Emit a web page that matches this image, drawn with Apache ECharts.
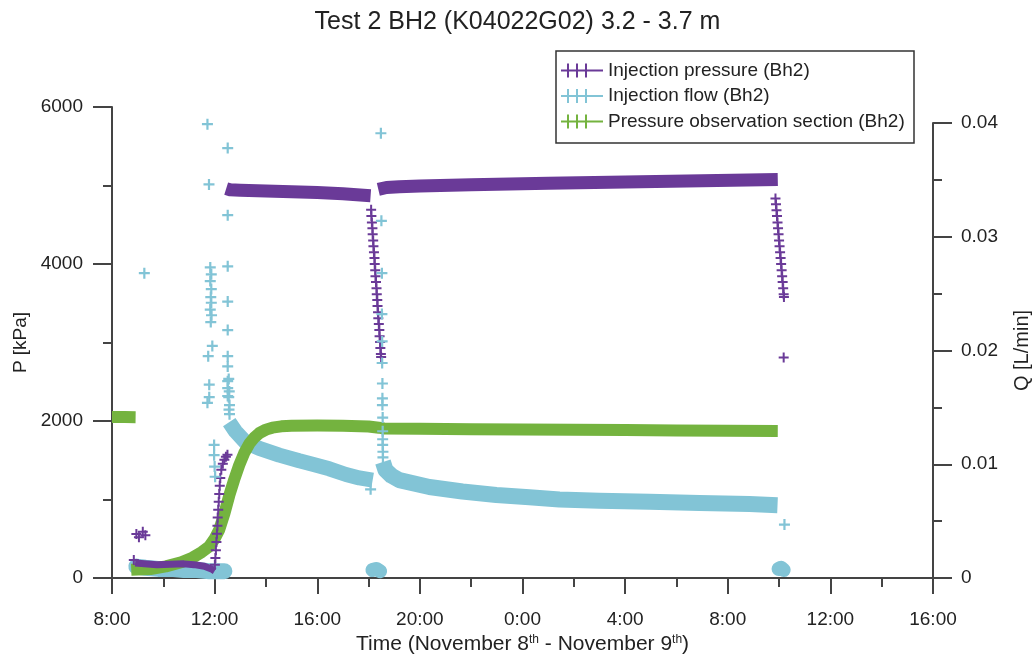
<!DOCTYPE html>
<html>
<head>
<meta charset="utf-8">
<script src="https://cdn.jsdelivr.net/npm/echarts@6/dist/echarts.min.js"></script>
<style>
html,body{margin:0;padding:0;background:#fff;}
#chart{width:1035px;height:657px;}
</style>
</head>
<body>
<div id="chart"></div>
<script>
// ---- data (time in hours since Nov 8 00:00) ----
const xTicks = [8, 12, 16, 20, 24, 28, 32, 36, 40];

// Injection pressure (kPa)
const injPressEarly = [[8.85,230],[8.95,560],[9.05,520],[9.2,590],[9.3,545]];
const injPressLow = [[8.9,190],[9.75,170],[10.3,175],[10.8,180],[11.2,170],[11.6,150],[11.9,110],[12.0,90]];
const injPressRise = [[12.01,170],[12.03,255],[12.05,355],[12.07,460],[12.09,565],[12.11,665],[12.12,770],[12.14,870],[12.16,970],[12.18,1070],[12.2,1175],[12.22,1275],[12.26,1380],[12.32,1455],[12.38,1505],[12.44,1545],[12.5,1570]];
const injPressBand1 = [[12.45,4960],[12.6,4945],[13,4940],[14,4930],[15,4920],[16,4910],[17,4895],[18.08,4870]];
const injPressDrop1 = [[18.1,4690],[18.11,4610],[18.13,4530],[18.15,4455],[18.16,4380],[18.18,4300],[18.19,4225],[18.21,4150],[18.23,4075],[18.24,4000],[18.26,3920],[18.27,3845],[18.29,3770],[18.31,3690],[18.32,3615],[18.34,3540],[18.35,3465],[18.37,3385],[18.38,3310],[18.4,3235],[18.42,3160],[18.43,3080],[18.45,3005],[18.46,2930],[18.48,2855],[18.49,2815]];
const injPressBand2 = [[18.38,4950],[18.7,4975],[19.2,4985],[20,4995],[22,5010],[25,5028],[28,5045],[31,5060],[33.95,5078]];
const injPressDrop2 = [[33.86,4835],[33.88,4760],[33.9,4685],[33.92,4610],[33.94,4530],[33.96,4455],[33.98,4380],[34.0,4300],[34.02,4225],[34.04,4150],[34.06,4075],[34.08,4000],[34.1,3920],[34.12,3845],[34.14,3770],[34.16,3690],[34.18,3615],[34.19,3580],[34.18,2810]];

// Injection flow (L/min)
const flowSpikes = [[9.26,0.0268],[11.72,0.0399],[11.78,0.0346],[11.83,0.0273],[11.87,0.0267],[11.83,0.0261],[11.87,0.0254],[11.85,0.0247],[11.87,0.0242],[11.83,0.0236],[11.88,0.0231],[11.85,0.0225],[11.91,0.0204],[11.75,0.0195],[11.79,0.0170],[11.72,0.0154],[11.79,0.0159],[11.98,0.0117],[11.98,0.0108],[12.0,0.0098],[12.02,0.0089],
  [12.51,0.0378],[12.51,0.0319],[12.51,0.0274],[12.51,0.0243],[12.51,0.0218],[12.51,0.0195],[12.51,0.0186],[12.51,0.0173],[12.51,0.0167],[12.51,0.0160],[12.55,0.0175],[12.57,0.0164],[12.55,0.0159],[12.58,0.0152],[12.56,0.0148],[12.58,0.0144],
  [18.08,0.0078],[18.48,0.0391],[18.5,0.0314],[18.52,0.0268],[18.52,0.0232],[18.53,0.0208],[18.53,0.0189],[18.54,0.0171],[18.54,0.0158],[18.54,0.0152],[18.55,0.0141],[18.55,0.0129],[18.55,0.0122],[18.55,0.0117],[18.56,0.0111],[18.56,0.0106],[34.21,0.0047]];
const flowBand1 = [[12.57,0.0137],[12.81,0.0129],[13.22,0.0119],[13.74,0.0114],[14.52,0.0108],[15.3,0.0103],[15.82,0.0100],[16.47,0.0096],[17.12,0.0091],[17.64,0.0088],[18.16,0.0086]];
const flowBand2 = [[18.56,0.0102],[18.66,0.0095],[18.89,0.0090],[19.2,0.0086],[20.37,0.0080],[21.66,0.0076],[22.98,0.0073],[24.27,0.0071],[25.44,0.0069],[26.99,0.0068],[28.95,0.0067],[30.9,0.0066],[32.85,0.0065],[33.94,0.0064]];
const flowBase1 = [[8.95,0.0010],[9.3,0.0009],[9.8,0.0008],[10.3,0.0008],[10.8,0.0007],[11.3,0.0007],[11.8,0.0006],[12.38,0.0006]];
const flowBase2 = [[18.15,0.0007],[18.3,0.0008],[18.45,0.0006]];
const flowBase3 = [[33.98,0.0008],[34.08,0.0009],[34.18,0.0007]];

// Pressure observation section (kPa)
const obsSeg1 = [[8.0,2050],[8.5,2050],[8.92,2048]];
const obsSeg2 = [[8.75,105],[9.5,115],[10.1,148],[10.7,200],[11.13,258],[11.5,330],[11.79,402],[12.0,500],[12.18,614],[12.38,820],[12.57,1050],[12.76,1250],[12.96,1440],[13.15,1590],[13.35,1710],[13.55,1790],[13.74,1845],[14.0,1890],[14.25,1915],[14.6,1932],[15.0,1940],[16.0,1942],[17.0,1938],[18.0,1930],[18.4,1915],[18.6,1905],[20,1900],[22,1896],[24,1892],[26,1888],[28,1884],[30,1880],[32,1877],[33.95,1874]];

// ---- styles ----
const FONT = "'Liberation Sans', Arial, sans-serif";
const PURPLE = '#6a3a98', BLUE = '#82c4d6', GREEN = '#74b33f';
const AX = '#444';
const CROSS = 'path://M0,4H10V6H0Z M4,0H6V10H4Z';
const LEGICON = 'path://M0,6H42V8H0Z M6,0H8V14H6Z M15,0H17V14H15Z M24,0H26V14H24Z';
const N1 = 'Injection pressure (Bh2)', N2 = 'Injection flow (Bh2)', N3 = 'Pressure observation section (Bh2)';

function axisCommon() {
  return {
    axisLine: {show: true, lineStyle: {color: AX, width: 2}},
    axisTick: {show: true, inside: false, length: 19, lineStyle: {color: AX, width: 2}},
    minorTick: {show: true, splitNumber: 2, length: 9, lineStyle: {color: AX, width: 2}},
    splitLine: {show: false},
    minorSplitLine: {show: false}
  };
}

function lineS(name, data, color, width, xi, yi, z, cap) {
  return {name, type: 'line', data, xAxisIndex: xi, yAxisIndex: yi, showSymbol: false, symbol: 'none',
    lineStyle: {color, width, cap: cap || 'butt', join: 'round'}, itemStyle: {color}, z, silent: true};
}
function scatS(name, data, color, size, xi, yi, z) {
  return {name, type: 'scatter', data, xAxisIndex: xi, yAxisIndex: yi, symbol: CROSS, symbolSize: size,
    itemStyle: {color, opacity: 1}, z, silent: true};
}

const chart = echarts.init(document.getElementById('chart'), null, {renderer: 'canvas'});
const xa0 = Object.assign(axisCommon(), {
  type: 'value', gridIndex: 0, min: 8, max: 40, interval: 4,
  axisLabel: {formatter: v => (v % 24) + ':00', fontSize: 19, color: '#222', margin: 32, fontFamily: FONT},
  name: '{a|Time (November 8}{s|th}{a| - November 9}{s|th}{a|)}',
  nameLocation: 'middle', nameGap: 53,
  nameTextStyle: {fontSize: 21, color: '#222', fontFamily: FONT,
    rich: {a: {fontSize: 21, color: '#222', fontFamily: FONT},
           s: {fontSize: 12, color: '#222', fontFamily: FONT, verticalAlign: 'top'}}}
});
xa0.axisTick.length = 16;
const xa1 = {type: 'value', gridIndex: 1, min: 8, max: 40, interval: 4, show: false};

const ya0 = Object.assign(axisCommon(), {
  type: 'value', gridIndex: 0, position: 'left', min: 0, max: 6000, interval: 2000,
  axisLabel: {fontSize: 19, color: '#222', margin: 29, fontFamily: FONT, formatter: v => String(v)},
  name: 'P [kPa]', nameLocation: 'middle', nameRotate: 90, nameGap: 79,
  nameTextStyle: {fontSize: 19, color: '#222', fontFamily: FONT}
});
const ya1 = Object.assign(axisCommon(), {
  type: 'value', gridIndex: 1, position: 'right', min: 0, max: 0.04, interval: 0.01,
  axisLabel: {fontSize: 19, color: '#222', margin: 28, fontFamily: FONT,
    formatter: v => v === 0 ? '0' : v.toFixed(2)},
  name: 'Q [L/min]', nameLocation: 'middle', nameRotate: 90, nameGap: 79,
  nameTextStyle: {fontSize: 20, color: '#222', fontFamily: FONT}
});

chart.setOption({
  animation: false,
  backgroundColor: '#fff',
  title: {text: 'Test 2 BH2 (K04022G02) 3.2 - 3.7 m', left: 'center', top: 10, padding: 0,
    textStyle: {fontSize: 25, fontWeight: 'normal', color: '#222', fontFamily: FONT}},
  grid: [
    {left: 112, right: 102, top: 107, bottom: 79, containLabel: false, outerBoundsMode: 'none'},
    {left: 112, right: 102, top: 123, bottom: 79, containLabel: false, outerBoundsMode: 'none'}
  ],
  xAxis: [xa0, xa1],
  yAxis: [ya0, ya1],
  graphic: [{type: 'rect', z: 10, shape: {x: 556, y: 51, width: 358, height: 92},
    style: {fill: '#fff', stroke: '#333', lineWidth: 1.5}}],
  legend: {
    orient: 'vertical', left: 561, top: 61, padding: 0, itemGap: 6.5, itemWidth: 42, itemHeight: 14,
    z: 20, selectedMode: false,
    textStyle: {fontSize: 19, color: '#222', fontFamily: FONT},
    itemStyle: {borderWidth: 0},
    data: [{name: N1, icon: LEGICON}, {name: N2, icon: LEGICON}, {name: N3, icon: LEGICON}]
  },
  series: [
    lineS(N1, injPressLow, PURPLE, 7, 0, 0, 4),
    lineS(N2, flowBase1, BLUE, 16, 1, 1, 2, 'round'),
    lineS(N2, flowBase2, BLUE, 14, 1, 1, 2, 'round'),
    lineS(N2, flowBase3, BLUE, 14, 1, 1, 2, 'round'),
    lineS(N2, flowBand1, BLUE, 15, 1, 1, 2),
    lineS(N2, flowBand2, BLUE, 16, 1, 1, 2),
    lineS(N3, obsSeg1, GREEN, 12, 0, 0, 3),
    lineS(N3, obsSeg2, GREEN, 12, 0, 0, 3),
    lineS(N1, injPressBand1, PURPLE, 13, 0, 0, 4),
    lineS(N1, injPressBand2, PURPLE, 13, 0, 0, 4),
    scatS(N1, injPressEarly, PURPLE, 10, 0, 0, 5),
    scatS(N1, injPressRise, PURPLE, 10, 0, 0, 5),
    scatS(N1, injPressDrop1, PURPLE, 10, 0, 0, 5),
    scatS(N1, injPressDrop2, PURPLE, 10, 0, 0, 5),
    scatS(N2, flowSpikes, BLUE, 11, 1, 1, 6)
  ]
});
</script>
</body>
</html>
